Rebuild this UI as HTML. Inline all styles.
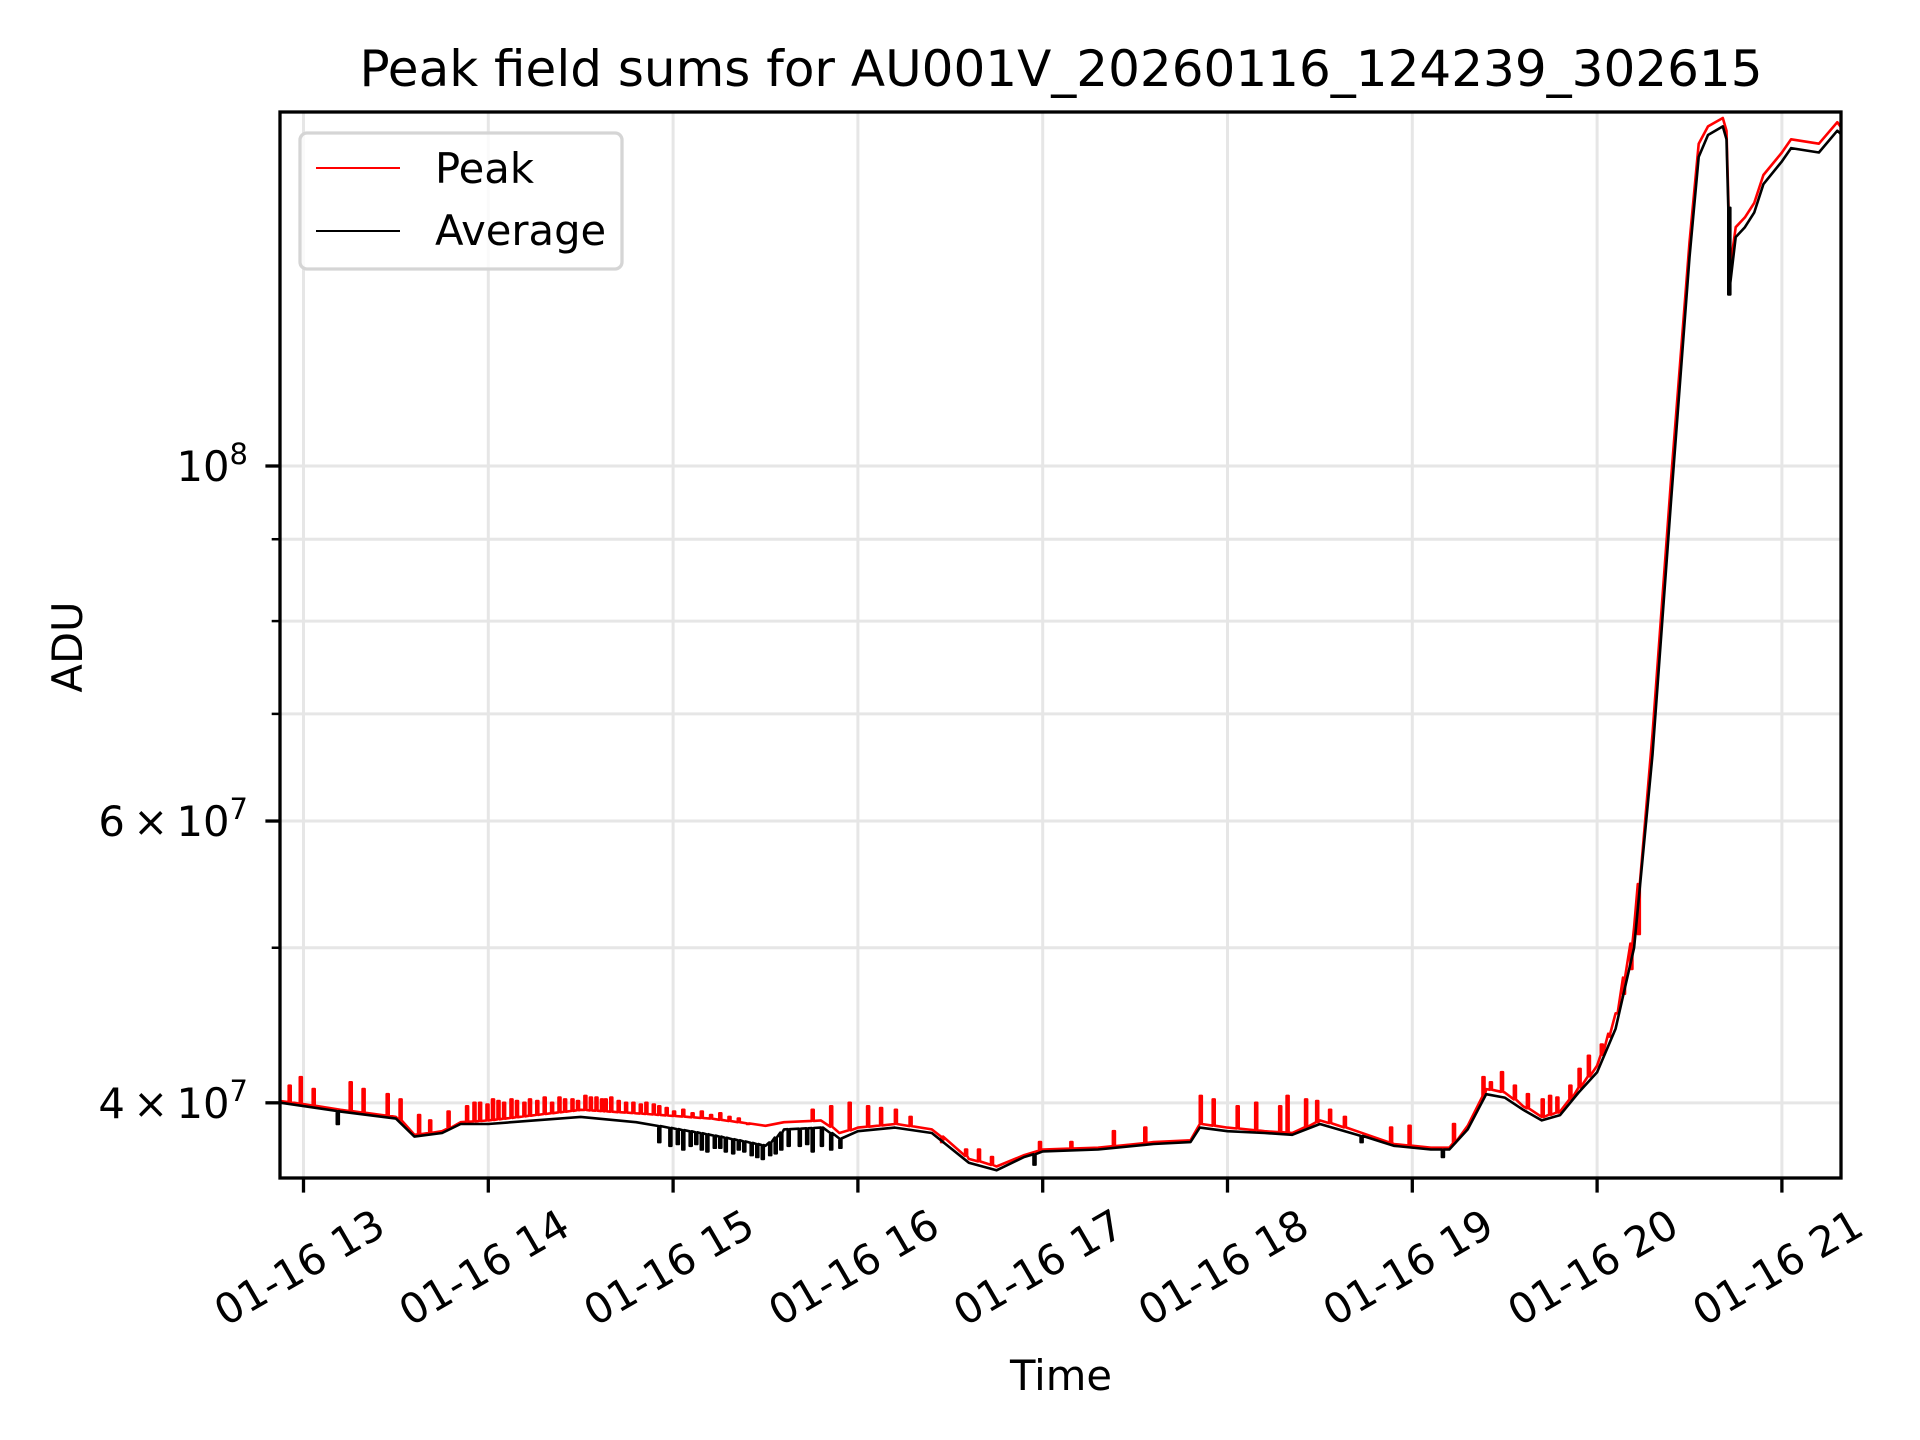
<!DOCTYPE html>
<html><head><meta charset="utf-8"><style>
html,body{margin:0;padding:0;background:#fff}
svg{display:block;font-family:"DejaVu Sans","Liberation Sans",sans-serif}
</style></head><body>
<svg id="chart" width="1920" height="1440" viewBox="0 0 1920 1440" xmlns="http://www.w3.org/2000/svg">
<rect width="1920" height="1440" fill="#fff"/>
<g id="grid"></g>
<g id="series"></g>
<rect x="280" y="112" width="1561" height="1066" fill="none" stroke="#000" stroke-width="3.3"/>
<g id="axes"></g>
<text x="1061" y="86" font-size="50" text-anchor="middle">Peak field sums for AU001V_20260116_124239_302615</text>
<text x="1061" y="1390" font-size="41.7" text-anchor="middle">Time</text>
<text x="0" y="0" font-size="41.7" text-anchor="middle" transform="translate(82,647) rotate(-90)">ADU</text>
<g>
<rect x="300" y="133" width="322" height="136" rx="7" fill="#fff" fill-opacity="0.8" stroke="#d5d5d5" stroke-width="3.3"/>
<line x1="316" y1="168" x2="400" y2="168" stroke="#f00" stroke-width="2"/>
<text x="435" y="183" font-size="41.7">Peak</text>
<line x1="316" y1="231" x2="400" y2="231" stroke="#000" stroke-width="2"/>
<text x="435" y="245" font-size="41.7">Average</text>
</g>
</svg>
<script>
// times in hours on 01-16, values in units of 1e7 ADU
const timesH = [12.88,13.2,13.5,13.6,13.75,13.85,14.0,14.5,14.8,15.2,15.5,15.6,15.8,15.9,16.0,16.2,16.4,16.6,16.75,16.9,17.0,17.3,17.6,17.8,17.85,18.0,18.2,18.35,18.5,18.7,18.9,19.1,19.2,19.3,19.4,19.5,19.6,19.7,19.8,19.9,20.0,20.1,20.2,20.3,20.4,20.5,20.55,20.6,20.68,20.7,20.72,20.75,20.8,20.85,20.9,21.0,21.05,21.2,21.3,21.35];
const averageVals = [4.00,3.95,3.91,3.81,3.83,3.88,3.88,3.92,3.89,3.82,3.76,3.85,3.86,3.80,3.84,3.86,3.83,3.67,3.63,3.70,3.73,3.74,3.77,3.78,3.86,3.84,3.83,3.82,3.88,3.82,3.76,3.74,3.74,3.85,4.05,4.03,3.96,3.90,3.93,4.06,4.18,4.45,5.0,6.6,9.5,13.5,15.6,16.1,16.3,16.0,13.0,13.9,14.1,14.4,15.0,15.5,15.8,15.7,16.2,16.0];
const peakBaseVals = [4.01,3.96,3.92,3.82,3.84,3.89,3.90,3.96,3.94,3.91,3.87,3.89,3.90,3.83,3.86,3.88,3.85,3.69,3.65,3.71,3.74,3.75,3.78,3.79,3.88,3.86,3.84,3.83,3.90,3.84,3.77,3.75,3.75,3.87,4.08,4.06,3.98,3.92,3.95,4.09,4.22,4.55,5.15,6.8,9.8,13.8,15.9,16.3,16.5,16.2,13.3,14.1,14.3,14.6,15.2,15.7,16.0,15.9,16.4,16.1];
const spikeTimes = [12.92,12.98,13.05,13.25,13.32,13.45,13.52,13.62,13.68,13.78,13.88,13.92,13.95,13.99,14.02,14.05,14.08,14.12,14.15,14.19,14.22,14.26,14.3,14.34,14.38,14.41,14.45,14.48,14.52,14.55,14.58,14.61,14.63,14.66,14.7,14.74,14.78,14.82,14.85,14.89,14.92,14.96,15.0,15.05,15.1,15.15,15.2,15.25,15.3,15.35,15.4,15.75,15.85,15.95,16.05,16.12,16.2,16.28,16.45,16.58,16.65,16.72,16.98,17.15,17.38,17.55,17.85,17.92,18.05,18.15,18.28,18.32,18.42,18.48,18.55,18.63,18.88,18.98,19.22,19.38,19.42,19.48,19.55,19.62,19.7,19.74,19.78,19.85,19.9,19.95,20.02,20.06,20.1,20.14,20.18,20.22];
const spikeVals = [4.10,4.15,4.08,4.12,4.08,4.05,4.02,3.93,3.90,3.95,3.98,4.00,4.00,3.99,4.02,4.01,4.00,4.02,4.01,4.00,4.02,4.01,4.03,4.00,4.03,4.02,4.02,4.01,4.04,4.03,4.03,4.02,4.02,4.03,4.01,4.00,4.00,3.99,4.00,3.99,3.98,3.97,3.95,3.96,3.94,3.95,3.93,3.94,3.92,3.91,3.88,3.96,3.98,4.00,3.98,3.97,3.96,3.92,3.78,3.74,3.74,3.70,3.78,3.78,3.84,3.86,4.04,4.02,3.98,4.00,3.98,4.04,4.02,4.01,3.96,3.92,3.86,3.87,3.88,4.15,4.12,4.18,4.10,4.05,4.02,4.04,4.03,4.10,4.20,4.28,4.35,4.40,4.55,4.68,4.85,5.1];
const dipTimes = [13.18,14.92,14.98,15.02,15.05,15.09,15.12,15.15,15.18,15.22,15.25,15.28,15.32,15.35,15.38,15.42,15.45,15.48,15.52,15.55,15.58,15.62,15.68,15.72,15.75,15.8,15.85,15.9,16.95,18.72,19.16,20.71];
const dipVals = [3.88,3.78,3.76,3.77,3.74,3.76,3.77,3.74,3.73,3.75,3.75,3.73,3.72,3.74,3.73,3.71,3.70,3.69,3.71,3.72,3.74,3.76,3.76,3.77,3.73,3.76,3.74,3.75,3.66,3.78,3.70,12.8];
const yMinorVals = [5,7,8,9];
const yMajorVals = [4,6,10];
const yMajorLabels = [["4","\u00d710","7"],["6","\u00d710","7"],["10","","8"]];
const xTickHours = [13,14,15,16,17,18,19,20,21];
const xTickLabels = ["01-16 13","01-16 14","01-16 15","01-16 16","01-16 17","01-16 18","01-16 19","01-16 20","01-16 21"];

const NS="http://www.w3.org/2000/svg";
const L=280,R=1841,T=112,B=1178;
function xs(h){return 303.5+(h-13)*184.8;}
function ys(v){return 466-695*Math.log(v/10);}
function mk(tag,attrs,parent){const e=document.createElementNS(NS,tag);for(const k in attrs)e.setAttribute(k,attrs[k]);parent.appendChild(e);return e;}
function interp(h,arr){for(let i=0;i<timesH.length-1;i++){if(h>=timesH[i]&&h<=timesH[i+1]){const f=(h-timesH[i])/(timesH[i+1]-timesH[i]);return arr[i]+f*(arr[i+1]-arr[i]);}}return arr[arr.length-1];}
const grid=document.getElementById('grid'),axes=document.getElementById('axes'),series=document.getElementById('series');
xTickHours.forEach((h,i)=>{
 const x=xs(h);
 const g=mk('line',{x1:x,y1:T,x2:x,y2:B,stroke:'#e6e6e6','stroke-width':3},grid);
 
 
 const t=mk('line',{x1:x,y1:B,x2:x,y2:B+14.6,stroke:'#000','stroke-width':3.3},axes);
 
 
 const lb=mk('text',{x:0,y:14,'font-size':41.7,'text-anchor':'middle',transform:`translate(${x-4},1268) rotate(-30)`},axes);
 lb.textContent=xTickLabels[i];
 
 
});
yMinorVals.forEach(v=>{
 const y=ys(v);
 const g=mk('line',{x1:L,y1:y,x2:R,y2:y,stroke:'#e6e6e6','stroke-width':3},grid);
 
 
 const t=mk('line',{x1:L-8.3,y1:y,x2:L,y2:y,stroke:'#000','stroke-width':2.5},axes);
 
 
});
yMajorVals.forEach((v,i)=>{
 const y=ys(v);
 const g=mk('line',{x1:L,y1:y,x2:R,y2:y,stroke:'#e6e6e6','stroke-width':3},grid);
 
 
 const t=mk('line',{x1:L-14.6,y1:y,x2:L,y2:y,stroke:'#000','stroke-width':3.3},axes);
 
 
 const lb=mk('text',{x:248,y:y+15,'font-size':41.7,'text-anchor':'end'},axes);
 
 
 const p=yMajorLabels[i];
 const a=mk('tspan',{},lb);a.textContent=p[1]?p[0]+'\u2009\u00d7\u200910':p[0];
 const s=mk('tspan',{'font-size':29,dy:-17},lb);s.textContent=p[2];
});
function buildPath(base,evTimes,evVals){
 const pts=timesH.map((h,i)=>({h,v:base[i],ev:false}));
 evTimes.forEach((h,i)=>pts.push({h,v:evVals[i],ev:true}));
 pts.sort((a,b)=>a.h-b.h);
 let d='';
 pts.forEach((p,i)=>{
  const x=xs(p.h);
  if(p.ev){const bv=interp(p.h,base);d+=`L${x.toFixed(1)},${ys(bv).toFixed(1)}L${x.toFixed(1)},${ys(p.v).toFixed(1)}L${(x+2).toFixed(1)},${ys(p.v).toFixed(1)}L${(x+2).toFixed(1)},${ys(bv).toFixed(1)}`;}
  else d+=(i===0?'M':'L')+x.toFixed(1)+','+ys(p.v).toFixed(1);
 });
 return d;
}
const clip=mk('clipPath',{id:'pc'},series);mk('rect',{x:L,y:T,width:R-L,height:B-T},clip);
const pk=mk('path',{d:buildPath(peakBaseVals,spikeTimes,spikeVals),fill:'none',stroke:'#f00','stroke-width':2.6,'stroke-linejoin':'round','clip-path':'url(#pc)'},series);


const av=mk('path',{d:buildPath(averageVals,dipTimes,dipVals),fill:'none',stroke:'#000','stroke-width':2.6,'stroke-linejoin':'round','clip-path':'url(#pc)'},series);


</script>
</body></html>
